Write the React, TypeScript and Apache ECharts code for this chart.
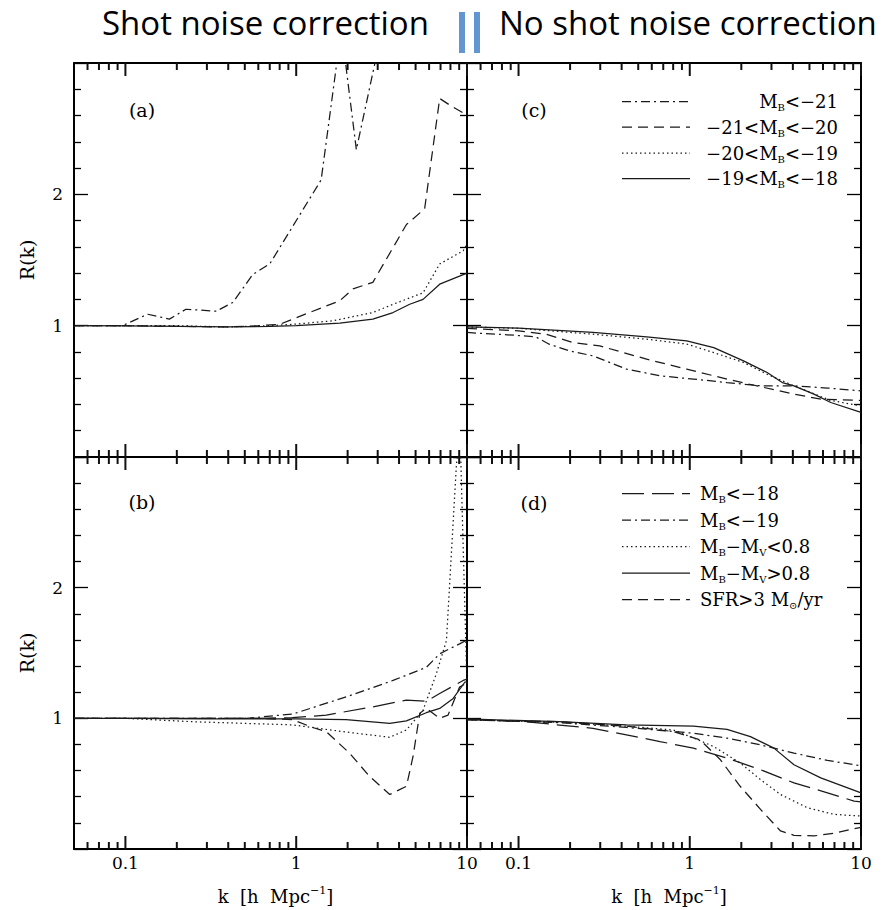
import React, { useEffect, useRef } from "react";
import * as echarts from "echarts";

// ---------- axis definitions ----------
const K_MIN = 0.05;
const K_MAX = 10;
const X_MAJOR = [0.1, 1, 10];
const X_MAJOR_LABELS = ["0.1", "1", "10"];
const X_MINOR = [0.06, 0.07, 0.08, 0.09, 0.2, 0.3, 0.4, 0.5, 0.6, 0.7, 0.8, 0.9, 2, 3, 4, 5, 6, 7, 8, 9];
const R_MIN = 0;
const R_MAX = 3;
const R_LABELS = ["1", "2"];

// ---------- panel (a): shot noise correction, magnitude bins ----------
const A_MB21_K = [0.05, 0.07, 0.096, 0.135, 0.181, 0.226, 0.34, 0.425, 0.557, 0.7, 0.78, 1.4, 1.72, 1.8, 2.25, 2.88, 3.2];
const A_MB21_R = [1.0, 1.0, 1.0, 1.087, 1.05, 1.125, 1.11, 1.176, 1.39, 1.47, 1.57, 2.11, 2.98, 3.35, 2.34, 2.99, 3.3];
const A_MB20_K = [0.05, 0.1, 0.2, 0.4, 0.6, 0.8, 0.955, 1.25, 1.8, 2.15, 2.81, 3.6, 4.42, 5.65, 6.92, 7.92, 9.5, 10];
const A_MB20_R = [1.0, 1.0, 0.995, 0.99, 1.0, 1.01, 1.05, 1.11, 1.19, 1.28, 1.33, 1.57, 1.77, 1.89, 2.73, 2.68, 2.62, 2.6];
const A_MB19_K = [0.05, 0.1, 0.2, 0.4, 0.7, 0.955, 1.64, 2.81, 3.69, 5.53, 6.92, 9.5, 10];
const A_MB19_R = [1.0, 1.0, 1.0, 0.99, 1.0, 1.01, 1.037, 1.1, 1.163, 1.25, 1.47, 1.57, 1.62];
const A_MB18_K = [0.05, 0.1, 0.2, 0.4, 0.7, 1.0, 1.8, 2.81, 3.69, 4.62, 5.53, 6.92, 10];
const A_MB18_R = [1.0, 0.998, 0.995, 0.99, 0.995, 1.0, 1.02, 1.05, 1.1, 1.163, 1.2, 1.316, 1.4];

// ---------- panel (c): no shot noise correction, magnitude bins ----------
const C_MB21_K = [0.05, 0.1, 0.126, 0.151, 0.198, 0.272, 0.427, 0.67, 1.05, 1.65, 2.59, 4.06, 6.37, 10];
const C_MB21_R = [0.948, 0.925, 0.915, 0.859, 0.808, 0.77, 0.669, 0.618, 0.593, 0.567, 0.542, 0.542, 0.525, 0.504];
const C_MB20_K = [0.05, 0.1, 0.145, 0.207, 0.298, 0.56, 0.96, 1.65, 2.59, 4.06, 5.82, 10];
const C_MB20_R = [0.98, 0.96, 0.935, 0.872, 0.846, 0.745, 0.669, 0.593, 0.535, 0.479, 0.441, 0.43];
const C_MB19_K = [0.05, 0.1, 0.272, 0.56, 0.96, 1.38, 2.06, 2.83, 4.06, 6.66, 10];
const C_MB19_R = [0.99, 0.98, 0.935, 0.897, 0.86, 0.795, 0.72, 0.63, 0.542, 0.43, 0.39];
const C_MB18_K = [0.05, 0.1, 0.272, 0.56, 0.96, 1.38, 2.06, 2.83, 3.47, 4.06, 5.31, 6.66, 10];
const C_MB18_R = [0.99, 0.981, 0.948, 0.915, 0.884, 0.833, 0.732, 0.643, 0.567, 0.542, 0.479, 0.415, 0.34];

// ---------- panel (b): shot noise correction, other selections ----------
const B_MB18_K = [0.05, 0.1, 0.3, 0.6, 0.95, 1.5, 2.81, 4.42, 5.78, 6.92, 9.5, 10];
const B_MB18_R = [1.0, 1.0, 1.0, 1.0, 1.005, 1.025, 1.088, 1.14, 1.13, 1.19, 1.29, 1.3];
const B_MB19_K = [0.05, 0.1, 0.3, 0.51, 0.955, 1.96, 3.69, 5.78, 6.92, 9.05, 10];
const B_MB19_R = [1.0, 1.0, 1.0, 1.0, 1.033, 1.164, 1.29, 1.39, 1.494, 1.57, 1.6];
const B_BVLT_K = [0.05, 0.1, 0.247, 0.955, 1.88, 3.53, 4.42, 5.53, 6.61, 7.58, 8.67, 9.1, 10];
const B_BVLT_R = [1.0, 1.0, 0.974, 0.95, 0.898, 0.855, 0.911, 1.063, 1.34, 1.595, 2.94, 3.2, 1.25];
const B_BVGT_K = [0.05, 0.1, 0.3, 1.0, 1.96, 3.53, 4.42, 5.78, 6.92, 8.3, 9.73, 10];
const B_BVGT_R = [1.0, 1.0, 0.995, 0.995, 0.99, 0.962, 0.98, 1.043, 1.076, 1.152, 1.278, 1.28];
const B_SFR_K = [0.05, 0.1, 0.3, 0.6, 0.95, 1.25, 1.5, 2.05, 2.69, 3.53, 4.42, 4.83, 5.29, 5.78, 6.92, 7.75, 9.05, 10];
const B_SFR_R = [1.0, 1.0, 1.0, 1.0, 0.99, 0.93, 0.898, 0.734, 0.556, 0.417, 0.48, 0.708, 1.038, 1.076, 1.0, 1.025, 1.24, 1.27];

// ---------- panel (d): no shot noise correction, other selections ----------
const D_MB18_K = [0.05, 0.11, 0.272, 0.427, 0.67, 1.05, 1.65, 2.59, 4.06, 6.37, 9.12, 10];
const D_MB18_R = [0.99, 0.974, 0.924, 0.873, 0.822, 0.772, 0.696, 0.607, 0.506, 0.43, 0.366, 0.36];
const D_MB19_K = [0.05, 0.173, 0.427, 1.05, 1.65, 2.59, 3.1, 4.06, 6.37, 10];
const D_MB19_R = [0.99, 0.967, 0.93, 0.886, 0.848, 0.797, 0.772, 0.734, 0.678, 0.637];
const D_BVLT_K = [0.05, 0.173, 0.427, 0.8, 1.05, 1.38, 1.97, 2.59, 3.39, 4.86, 6.96, 10];
const D_BVLT_R = [0.99, 0.97, 0.94, 0.911, 0.85, 0.784, 0.658, 0.531, 0.417, 0.316, 0.265, 0.252];
const D_BVGT_K = [0.05, 0.173, 0.427, 1.05, 1.65, 2.26, 3.1, 4.06, 5.82, 10];
const D_BVGT_R = [0.995, 0.974, 0.949, 0.941, 0.916, 0.86, 0.772, 0.645, 0.544, 0.43];
const D_SFR_K = [0.05, 0.173, 0.427, 0.8, 1.15, 1.51, 1.97, 2.59, 3.39, 4.06, 5.31, 6.96, 9.12, 10];
const D_SFR_R = [0.99, 0.974, 0.94, 0.899, 0.835, 0.683, 0.48, 0.303, 0.138, 0.105, 0.1, 0.12, 0.156, 0.165];

// ---------- texts ----------
const TITLE_LEFT = "Shot noise correction";
const TITLE_RIGHT = "No shot noise correction";
const PANEL_TAGS = ["(a)", "(c)", "(b)", "(d)"];
const X_NAME = "{n|k  [h  Mpc}{s|−1}{n|]}";
const Y_NAME = "R(k)";
const C_LEGEND = ["{n|M}{s|B}{n|<−21}", "{n|−21<M}{s|B}{n|<−20}", "{n|−20<M}{s|B}{n|<−19}", "{n|−19<M}{s|B}{n|<−18}"];
const D_LEGEND = ["{n|M}{s|B}{n|<−18}", "{n|M}{s|B}{n|<−19}", "{n|M}{s|B}{n|−M}{s|V}{n|<0.8}", "{n|M}{s|B}{n|−M}{s|V}{n|>0.8}", "{n|SFR>3 M}{s|⊙}{n|/yr}"];

// ---------- styles ----------
const SERIF = "'DejaVu Serif', 'Liberation Serif', serif";
const INK = "#1a1a1a";
const TICK_INK = "#111";
const DOTDASH = [9, 4, 2, 4];
const DASH = [10, 6];
const DOT = [1.5, 3];
const LONGDASH = [22, 8];
const SOLID: any = "solid";

const GRIDS = [
  { left: 74, top: 63, width: 393, height: 394 }, // a
  { left: 467, top: 63, width: 394, height: 394 }, // c
  { left: 74, top: 457, width: 393, height: 392 }, // b
  { left: 467, top: 457, width: 394, height: 392 }, // d
];

const RICH = {
  n: { fontFamily: SERIF, fontSize: 18, lineHeight: 22, color: "#000" },
  s: { fontFamily: SERIF, fontSize: 10, lineHeight: 10, verticalAlign: "bottom", color: "#000" },
};
const RICH_SUP = {
  n: { fontFamily: SERIF, fontSize: 18, lineHeight: 22, color: "#000" },
  s: { fontFamily: SERIF, fontSize: 11, lineHeight: 11, verticalAlign: "top", color: "#000" },
};

function buildOption() {
  const L = Math.log10;
  const xMin = L(K_MIN);
  const xMax = L(K_MAX);
  const majorVals = X_MAJOR.map(L);

  const grid: any[] = [];
  const xAxis: any[] = [];
  const yAxis: any[] = [];

  GRIDS.forEach((gr, g) => {
    grid.push({ ...gr });
    const bottomPanel = g >= 2;
    const leftPanel = g % 2 === 0;
    xAxis.push({
      type: "value",
      gridIndex: g,
      min: xMin,
      max: xMax,
      position: "bottom",
      splitLine: { show: false },
      axisLine: { show: true, onZero: false, lineStyle: { color: "#000", width: 2 } },
      axisTick: { show: false },
      axisLabel: {
        show: bottomPanel,
        customValues: majorVals,
        margin: 5,
        fontFamily: SERIF,
        fontSize: 17,
        color: "#000",
        formatter: (v: number) => {
          const i = majorVals.findIndex((m) => Math.abs(m - v) < 1e-6);
          return i >= 0 ? X_MAJOR_LABELS[i] : "";
        },
      },
      name: bottomPanel ? X_NAME : "",
      nameLocation: "middle",
      nameGap: 36,
      nameTextStyle: { rich: RICH_SUP, padding: [0, 0, 0, 10] },
    });
    xAxis.push({
      type: "value",
      gridIndex: g,
      min: xMin,
      max: xMax,
      position: "top",
      splitLine: { show: false },
      axisLine: { show: true, onZero: false, lineStyle: { color: "#000", width: 2 } },
      axisTick: { show: false },
      axisLabel: { show: false, customValues: majorVals },
    });

    const ybase = {
      type: "value",
      gridIndex: g,
      min: R_MIN,
      max: R_MAX,
      interval: 1,
      splitLine: { show: false },
      minorSplitLine: { show: false },
      axisLine: { show: true, onZero: false, lineStyle: { color: "#000", width: 2 } },
      axisTick: { show: true, inside: true, length: 14, lineStyle: { color: "#000", width: 1.3 } },
      minorTick: { show: true, splitNumber: 5, length: 7, lineStyle: { color: "#000", width: 1.3 } },
    };
    yAxis.push({
      ...ybase,
      position: "left",
      axisLabel: leftPanel
        ? {
            show: true,
            margin: 11,
            fontFamily: SERIF,
            fontSize: 17,
            color: "#000",
            formatter: (v: number) => {
              const s = String(Math.round(v));
              return R_LABELS.includes(s) ? s : "";
            },
          }
        : { show: false },
      name: leftPanel ? Y_NAME : "",
      nameLocation: "middle",
      nameGap: 38,
      nameRotate: 90,
      nameTextStyle: { fontFamily: SERIF, fontSize: 19, color: "#000" },
    });
    yAxis.push({ ...ybase, position: "right", axisLabel: { show: false } });
  });

  const mk = (g: number, name: string, K: number[], R: number[], dash: any) => ({
    type: "line",
    name,
    xAxisIndex: 2 * g,
    yAxisIndex: 2 * g,
    data: K.map((k, i) => [L(k), R[i]]),
    symbol: "none",
    clip: true,
    lineStyle: { color: INK, width: 1.25, type: dash },
  });

  // log-k ticks (major 13px, minor 7px) on the bottom and top frame of every panel,
  // positioned through each panel's x scale
  const kTicks = (g: number, ks: number[], len: number, edge: number, dir: number) => ({
    type: "custom",
    xAxisIndex: 2 * g,
    yAxisIndex: 2 * g,
    clip: false,
    z: 10,
    data: ks.map((k) => [L(k), edge]),
    renderItem: (_p: any, api: any) => {
      const p = api.coord([api.value(0), api.value(1)]);
      return {
        type: "rect",
        shape: { x: p[0] - 1, y: dir > 0 ? p[1] : p[1] - len, width: 2, height: len },
        style: { fill: TICK_INK },
      };
    },
  });

  const series: any[] = [
    mk(0, "a MB<-21", A_MB21_K, A_MB21_R, DOTDASH),
    mk(0, "a -21<MB<-20", A_MB20_K, A_MB20_R, DASH),
    mk(0, "a -20<MB<-19", A_MB19_K, A_MB19_R, DOT),
    mk(0, "a -19<MB<-18", A_MB18_K, A_MB18_R, SOLID),
    mk(1, "c MB<-21", C_MB21_K, C_MB21_R, DOTDASH),
    mk(1, "c -21<MB<-20", C_MB20_K, C_MB20_R, DASH),
    mk(1, "c -20<MB<-19", C_MB19_K, C_MB19_R, DOT),
    mk(1, "c -19<MB<-18", C_MB18_K, C_MB18_R, SOLID),
    mk(2, "b MB<-18", B_MB18_K, B_MB18_R, LONGDASH),
    mk(2, "b MB<-19", B_MB19_K, B_MB19_R, DOTDASH),
    mk(2, "b MB-MV<0.8", B_BVLT_K, B_BVLT_R, DOT),
    mk(2, "b MB-MV>0.8", B_BVGT_K, B_BVGT_R, SOLID),
    mk(2, "b SFR>3", B_SFR_K, B_SFR_R, DASH),
    mk(3, "d MB<-18", D_MB18_K, D_MB18_R, LONGDASH),
    mk(3, "d MB<-19", D_MB19_K, D_MB19_R, DOTDASH),
    mk(3, "d MB-MV<0.8", D_BVLT_K, D_BVLT_R, DOT),
    mk(3, "d MB-MV>0.8", D_BVGT_K, D_BVGT_R, SOLID),
    mk(3, "d SFR>3", D_SFR_K, D_SFR_R, DASH),
    ...GRIDS.flatMap((_, g) => [
      kTicks(g, X_MINOR, 7, R_MIN, -1),
      kTicks(g, X_MINOR, 7, R_MAX, 1),
      kTicks(g, X_MAJOR, 13, R_MIN, -1),
      kTicks(g, X_MAJOR, 13, R_MAX, 1),
    ]),
  ];

  const legendLine = (y: number, dash: any) => ({
    type: "line",
    shape: { x1: 622, y1: y, x2: 690, y2: y },
    style: { stroke: INK, lineWidth: 1.25, lineDash: dash === SOLID ? null : dash },
  });
  const legendText = (x: number, y: number, text: string, align: string) => ({
    type: "text",
    x,
    y,
    style: { text, rich: RICH, align, verticalAlign: "middle", fill: "#000" },
  });

  const cDash = [DOTDASH, DASH, DOT, SOLID];
  const cRows = [101.7, 127, 153, 178.5];
  const dDash = [LONGDASH, DOTDASH, DOT, SOLID, DASH];
  const dRows = [493.5, 520, 546.5, 573, 599.5];
  const tagPos = [
    [142, 110],
    [534, 110],
    [142, 502],
    [534, 503],
  ];
  const TITLE_FONT = "'Open Sans', 'Noto Sans', sans-serif";

  const graphic: any[] = [
    {
      type: "text",
      x: 102,
      y: 22,
      style: { text: TITLE_LEFT, fontFamily: TITLE_FONT, fontSize: 33, fill: "#000", align: "left", verticalAlign: "middle" },
    },
    {
      type: "text",
      x: 499,
      y: 22,
      style: { text: TITLE_RIGHT, fontFamily: TITLE_FONT, fontSize: 33, fill: "#000", align: "left", verticalAlign: "middle" },
    },
    { type: "rect", shape: { x: 459, y: 12, width: 6, height: 41 }, style: { fill: "#6396d0" } },
    { type: "rect", shape: { x: 474, y: 12, width: 6, height: 41 }, style: { fill: "#6396d0" } },
    ...PANEL_TAGS.map((t, i) => ({
      type: "text",
      x: tagPos[i][0],
      y: tagPos[i][1],
      style: { text: t, fontFamily: SERIF, fontSize: 19, fill: "#000", align: "center", verticalAlign: "middle" },
    })),
    ...C_LEGEND.flatMap((t, i) => [legendLine(cRows[i], cDash[i]), legendText(838, cRows[i], t, "right")]),
    ...D_LEGEND.flatMap((t, i) => [legendLine(dRows[i], dDash[i]), legendText(700, dRows[i], t, "left")]),
  ];

  return {
    animation: false,
    grid,
    xAxis,
    yAxis,
    series,
    graphic,
  };
}

export default function App() {
  const ref = useRef<HTMLDivElement>(null);
  useEffect(() => {
    if (!ref.current) return;
    const chart = echarts.init(ref.current, null, { renderer: "svg" });
    chart.setOption(buildOption() as any);
    return () => chart.dispose();
  }, []);
  return (
    <div
      ref={ref}
      style={{ position: "absolute", left: 0, top: 0, width: 884, height: 910, background: "#fff" }}
    />
  );
}
